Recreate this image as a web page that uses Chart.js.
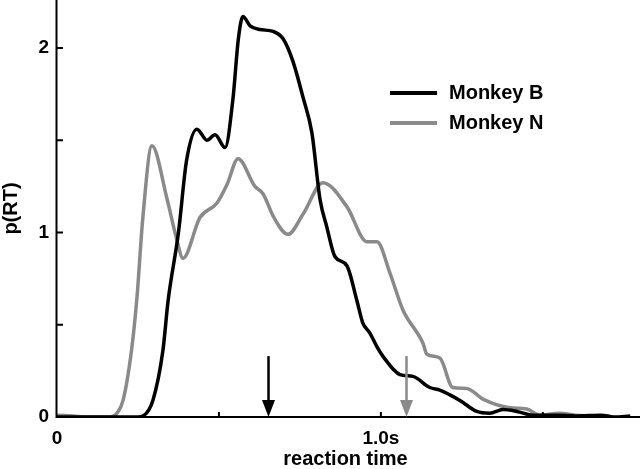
<!DOCTYPE html>
<html>
<head>
<meta charset="utf-8">
<script src="https://cdn.jsdelivr.net/npm/chart.js@4.4.1/dist/chart.umd.min.js"></script>
<style>
html,body{margin:0;padding:0;background:#fff;}
#wrap{width:640px;height:469px;}
</style>
</head>
<body>
<div id="wrap"><canvas id="c" width="640" height="469"></canvas></div>
<script>
// ---- data ----
const seriesNames = ["Monkey B", "Monkey N"];
const timeB = [0,0.1,0.2,0.25,0.265,0.296,0.327,0.343,0.375,0.40,0.432,0.463,0.488,0.519,0.543,0.56,0.574,0.596,0.627,0.667,0.698,0.728,0.76,0.787,0.812,0.833,0.858,0.895,0.926,0.944,0.966,0.988,1.006,1.059,1.099,1.151,1.182,1.213,1.244,1.296,1.336,1.377,1.42,1.47,1.55,1.6,1.68,1.72,1.77];
const probB = [0,0,0,0,0.005,0.09,0.36,0.63,1.0,1.39,1.56,1.50,1.53,1.46,1.72,2.05,2.17,2.12,2.10,2.09,2.05,1.93,1.73,1.54,1.18,1.03,0.87,0.82,0.63,0.51,0.455,0.38,0.33,0.23,0.22,0.16,0.146,0.12,0.09,0.03,0.02,0.04,0.03,0.01,0.01,0.005,0.01,0.0,0.005];
const timeN = [0,0.05,0.1,0.15,0.165,0.185,0.204,0.23,0.247,0.265,0.293,0.34,0.37,0.389,0.441,0.494,0.525,0.559,0.611,0.636,0.67,0.713,0.76,0.821,0.895,0.957,0.988,1.028,1.068,1.13,1.142,1.182,1.222,1.265,1.315,1.398,1.45,1.49,1.55,1.6,1.65];
const probN = [0.01,0.005,0,0,0,0.02,0.09,0.36,0.65,1.08,1.47,1.18,0.96,0.86,1.08,1.16,1.26,1.40,1.25,1.21,1.08,0.99,1.10,1.27,1.14,0.95,0.95,0.78,0.58,0.40,0.34,0.32,0.16,0.155,0.097,0.05,0.043,0.01,0.02,0.01,0.005];
const meanRT = [0.651, 1.079];          // arrows (mean reaction time)
const arrowTop = 0.33;
const xTicks = [0, 0.5, 1.0, 1.5];
const xTickLabels = ["0", "", "1.0s", ""];
const yTicks = [0, 0.5, 1, 1.5, 2];
const yTickLabels = ["0", "", "1", "", "2"];
const xTitle = "reaction time";
const yTitle = "p(RT)";

const colors = ["#000000", "#8a8a8a"];
const FAMILY = "'Liberation Sans', Arial, sans-serif";
const FONT = "bold 20px " + FAMILY;

function pts(xs, ys){ return xs.map((x,i)=>({x:x, y:ys[i]})); }

const deco = {
  id: 'deco',
  afterDraw(chart){
    const ctx = chart.ctx, xs = chart.scales.x, ys = chart.scales.y, ca = chart.chartArea;
    ctx.save();
    ctx.strokeStyle = '#000'; ctx.lineWidth = 2; ctx.lineCap = 'butt';
    // axes lines
    ctx.beginPath();
    ctx.moveTo(ca.left - 0.5, ca.top); ctx.lineTo(ca.left - 0.5, ca.bottom + 1);
    ctx.moveTo(ca.left - 1.5, ca.bottom); ctx.lineTo(ca.right, ca.bottom);
    ctx.stroke();
    // inward tick marks
    ctx.beginPath();
    yTicks.forEach(v=>{ const y = ys.getPixelForValue(v); if (v>0){ ctx.moveTo(ca.left, y); ctx.lineTo(ca.left + 6, y);} });
    xTicks.forEach(v=>{ const x = xs.getPixelForValue(v); if (v>0){ ctx.moveTo(x, ca.bottom); ctx.lineTo(x, ca.bottom - 5);} });
    ctx.stroke();
    // arrows
    meanRT.forEach((t,i)=>{
      const x = Math.round(xs.getPixelForValue(t)) + 0.5;
      const y0 = ys.getPixelForValue(arrowTop), y1 = ys.getPixelForValue(0);
      ctx.strokeStyle = colors[i]; ctx.fillStyle = colors[i]; ctx.lineWidth = 2.5;
      ctx.beginPath(); ctx.moveTo(x, y0); ctx.lineTo(x, y1 - 10); ctx.stroke();
      ctx.beginPath(); ctx.moveTo(x - 6.5, y1 - 17); ctx.lineTo(x + 6.5, y1 - 17); ctx.lineTo(x, y1); ctx.closePath(); ctx.fill();
    });
    // legend
    chart.data.datasets.forEach((ds,i)=>{
      const y = 93 + i*30;
      ctx.strokeStyle = ds.borderColor; ctx.lineWidth = 4;
      ctx.beginPath(); ctx.moveTo(390, y); ctx.lineTo(437, y); ctx.stroke();
      ctx.fillStyle = '#000'; ctx.font = FONT; ctx.textBaseline = 'alphabetic'; ctx.textAlign = 'left';
      ctx.fillText(ds.label, 449, y + 6);
    });
    // axis titles
    ctx.fillStyle = '#000'; ctx.font = FONT;
    ctx.textAlign = 'center'; ctx.textBaseline = 'alphabetic';
    ctx.fillText(xTitle, (ca.left + ca.right)/2 - 3, 465);
    ctx.save();
    ctx.translate(17, (ca.top + ca.bottom)/2);
    ctx.rotate(-Math.PI/2);
    ctx.fillText(yTitle, 0, 0);
    ctx.restore();
    ctx.restore();
  }
};

new Chart(document.getElementById('c'), {
  type: 'line',
  data: {
    datasets: [
      { label: seriesNames[0], data: pts(timeB, probB), borderColor: colors[0], borderWidth: 3.5, pointRadius: 0, cubicInterpolationMode: 'monotone', fill: false },
      { label: seriesNames[1], data: pts(timeN, probN), borderColor: colors[1], borderWidth: 3.5, pointRadius: 0, cubicInterpolationMode: 'monotone', fill: false }
    ]
  },
  options: {
    responsive: false,
    animation: false,
    layout: { padding: 0 },
    plugins: { legend: { display: false }, tooltip: { enabled: false } },
    scales: {
      x: {
        type: 'linear', min: 0, max: 1.8,
        afterBuildTicks: s => { s.ticks = xTicks.map(v=>({value:v})); },
        afterFit: s => { s.height = 52; s.paddingLeft = 0; s.paddingRight = 0; },
        grid: { display: false, drawTicks: false },
        border: { display: false },
        ticks: { autoSkip: false, maxRotation: 0, padding: 10, color: '#000', font: { family: FAMILY, size: 19, weight: 'bold' },
                 callback: v => { const k = xTicks.indexOf(v); return k >= 0 ? xTickLabels[k] : ''; } }
      },
      y: {
        type: 'linear', min: 0, max: 2.26,
        afterBuildTicks: s => { s.ticks = yTicks.map(v=>({value:v})); },
        afterFit: s => { s.width = 57; s.paddingTop = 0; s.paddingBottom = 0; },
        grid: { display: false, drawTicks: false },
        border: { display: false },
        ticks: { autoSkip: false, padding: 8, color: '#000', font: { family: FAMILY, size: 19, weight: 'bold' },
                 callback: v => { const k = yTicks.indexOf(v); return k >= 0 ? yTickLabels[k] : ''; } }
      }
    }
  },
  plugins: [deco]
});
</script>
</body>
</html>
